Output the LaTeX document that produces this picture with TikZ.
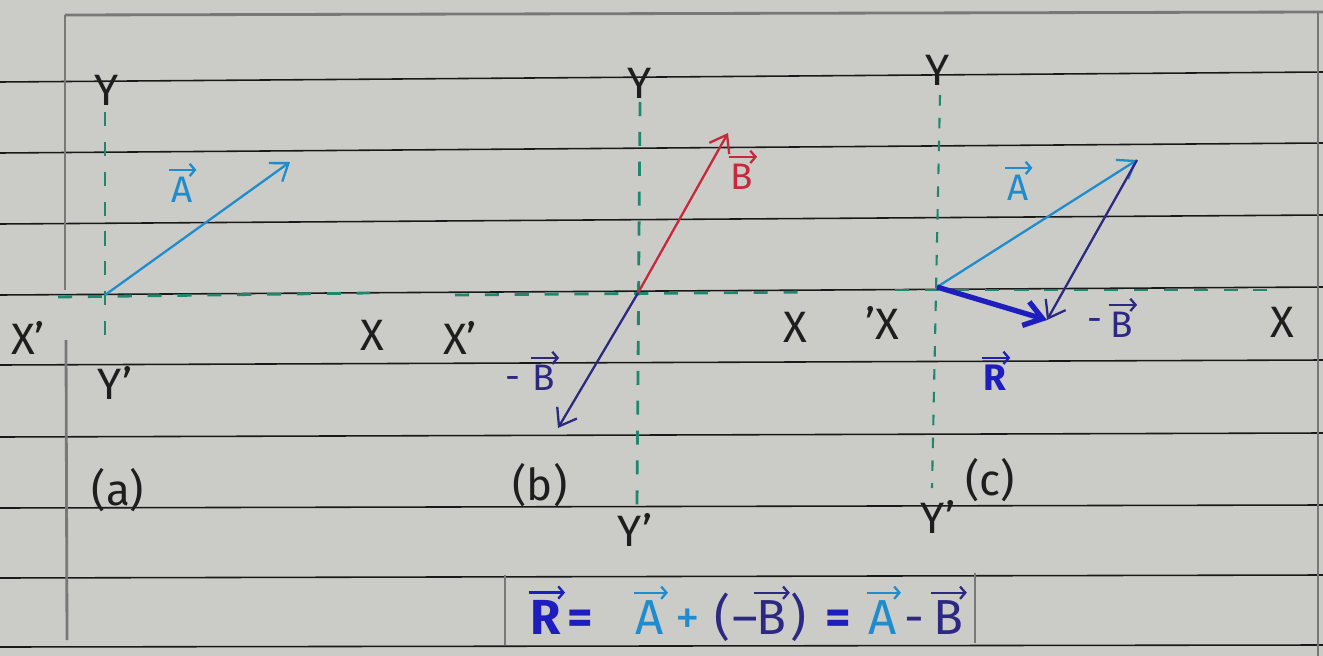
\documentclass[tikz,border=0pt]{standalone}
\usepackage{fontspec}
\setmainfont{Fira Sans}
\usetikzlibrary{arrows.meta}
\definecolor{paper}{RGB}{203,204,199}
\definecolor{rulec}{RGB}{25,25,25}
\definecolor{marginc}{RGB}{120,120,120}
\definecolor{axisc}{RGB}{30,135,110}
\definecolor{avec}{RGB}{30,140,205}
\definecolor{bvec}{RGB}{200,40,60}
\definecolor{nbvec}{RGB}{45,40,130}
\definecolor{rvec}{RGB}{30,30,190}
\definecolor{ink}{RGB}{30,30,30}
% #1 name, #2 position, #3 letter, #4 colour, #5 font size, #6 extra options
\newcommand\vecnode[6]{%
  \node[inner sep=0pt,text=#4,font=\fontsize{#5}{#5}\selectfont,#6] (#1) at (#2) {#3};
  \draw[#4,line width=1.3pt,-{Straight Barb[length=3pt,width=7pt,line width=1.3pt]}]
    ([yshift=4pt,xshift=-1pt]#1.north west) -- ([yshift=4pt,xshift=2pt]#1.north east);}
\begin{document}
\begin{tikzpicture}[x=0.02cm,y=-0.02cm,
  rule/.style={draw=rulec,line width=0.9pt},
  margin/.style={draw=marginc,line width=1.6pt},
  axis/.style={draw=axisc,line width=1.6pt,dash pattern=on 8pt off 9pt},
  vecarrow/.style={line width=1.3pt,-{Straight Barb[length=9pt,width=13pt,line width=1.3pt]}},
  lab/.style={font=\fontsize{25}{27}\selectfont,text=ink,inner sep=0pt},
  sym/.style={font=\fontsize{28}{30}\selectfont,inner sep=0pt,anchor=base}]
\fill[paper] (0,0) rectangle (1323,656);
\useasboundingbox (0,0) rectangle (1323,656);
% ruled lines
\foreach \a/\b in {82/72,153/143,224/215,295/287,365/360,437/433,508/505,578/575,647/645}
  \draw[rule] (0,\a) -- (1323,\b);
% margins
\draw[margin] (65,15) -- (1323,12);
\draw[margin] (65,15) -- (65,290);
\draw[margin] (66,340) -- (67,640);
\draw[margin] (1318,12) -- (1318,656);
% ---------- panel (a)
\coordinate (oa) at (105,295);
\node[lab] (ya) at (107,90) {Y};
\node[lab] (yap) at (115,383) {Y'};
\node[lab] (xap) at (28,338) {X'};
\node[lab] (xa) at (372,335) {X};
\coordinate (yat) at (105,112);
\coordinate (yab) at (105,340);
\coordinate (xal) at (58,297);
\coordinate (xar) at (370,293);
\draw[axis] (yat) -- (yab);
\draw[axis] (xal) -- (xar);
\coordinate (atip) at (290,162);
\draw[vecarrow,avec] (oa) -- (atip);
\vecnode{alab}{182,190}{A}{avec}{21}{}
\node[lab] (capa) at (118,490) {(a)};
% ---------- panel (b)
\coordinate (ob) at (638,293);
\node[lab] (yb) at (640,83) {Y};
\node[lab] (ybp) at (635,530) {Y'};
\node[lab] (xbp) at (460,338) {X'};
\node[lab] (xb) at (795,327) {X};
\coordinate (ybt) at (640,102);
\coordinate (ybb) at (637,505);
\coordinate (xbl) at (455,295);
\coordinate (xbr) at (812,292);
\draw[axis] (ybt) -- (ybb);
\draw[axis] (xbl) -- (xbr);
\coordinate (btip) at (728,133);
\coordinate (nbtip) at (558,428);
\draw[vecarrow,bvec] (ob) -- (btip);
\draw[vecarrow,nbvec] (ob) -- (nbtip);
\vecnode{blab}{742,177}{B}{bvec}{21}{}
\node[inner sep=0pt,text=nbvec,font=\fontsize{21}{21}\selectfont] (nbminus) at (513,383) {-};
\vecnode{nblab}{544,378}{B}{nbvec}{21}{}
\node[lab] (capb) at (540,485) {(b)};
% ---------- panel (c)
\coordinate (oc) at (937,287);
\node[lab] (yc) at (938,70) {Y};
\node[lab] (ycp) at (938,517) {Y'};
\node[lab] (xcp) at (882,323) {'X};
\node[lab] (xc) at (1282,322) {X};
\coordinate (yct) at (940,95);
\coordinate (ycb) at (932,488);
\draw[axis,line width=1.2pt,dash pattern=on 6pt off 7pt] (yct) -- (ycb);
\coordinate (xcl) at (895,290);
\coordinate (xcr) at (1270,290);
\draw[axis] (xcl) -- (xcr);
\coordinate (actip) at (1137,160);
\coordinate (rtip) at (1047,320);
\draw[vecarrow,avec] (oc) -- (actip);
\draw[vecarrow,nbvec] (actip) -- (rtip);
\draw[rvec,line width=3pt,-{Straight Barb[length=10pt,width=14pt,line width=3pt]}] (oc) -- (rtip);
\vecnode{aclab}{1018,188}{A}{avec}{21}{}
\node[inner sep=0pt,text=nbvec,font=\fontsize{21}{21}\selectfont] (nbcminus) at (1095,325) {-};
\vecnode{nbclab}{1122,325}{B}{nbvec}{21}{}
\vecnode{rlab}{995,378}{\bfseries R}{rvec}{21}{}
\node[lab] (capc) at (990,480) {(c)};
% ---------- formula
\draw[margin] (505,575) -- (505,645);
\draw[margin] (975,573) -- (975,643);
\vecnode{fr}{546,634}{\bfseries R}{rvec}{28}{anchor=base}
\node[sym,text=rvec] (feq1) at (580,634) {\bfseries =};
\vecnode{fa1}{650,634}{A}{avec}{28}{anchor=base}
\node[sym,text=avec] (fplus) at (688,634) {+};
\node[sym,text=nbvec] (flp) at (722,634) {(};
\node[sym,text=nbvec] (fm1) at (745,634) {–};
\vecnode{fb1}{771,634}{B}{nbvec}{28}{anchor=base}
\node[sym,text=nbvec] (frp) at (798,634) {)};
\node[sym,text=rvec] (feq2) at (838,634) {\bfseries =};
\vecnode{fa2}{883,634}{A}{avec}{28}{anchor=base}
\node[sym,text=nbvec] (fm2) at (914,634) {-};
\vecnode{fb2}{948,634}{B}{nbvec}{28}{anchor=base}
\end{tikzpicture}
\end{document}
